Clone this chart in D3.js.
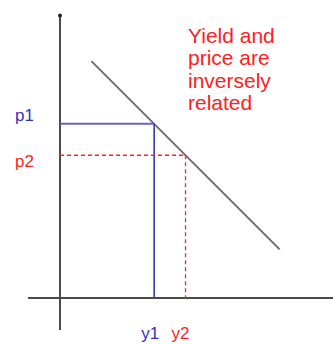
<!DOCTYPE html>
<html>
<head>
<meta charset="utf-8">
<script src="https://cdn.jsdelivr.net/npm/d3@7"></script>
<style>
  body { margin: 0; background: #fff; }
  text { font-family: "Liberation Sans", Arial, sans-serif; }
</style>
</head>
<body>
<div id="container"></div>
<script>
// yield (x) and price (y) in abstract units
const yieldLabels = ["y1", "y2"]
const priceLabels = ["p1", "p2"]
const yields = [3, 4]
const prices = [5.55, 4.55]
const curveYield = [1, 7]
const curvePrice = [7.55, 1.55]
const note = ["Yield and", "price are", "inversely", "related"]

const width = 333
const height = 344

const xScale = d3.scaleLinear().domain([0, 8.7]).range([60, 333])
const yScale = d3.scaleLinear().domain([0, 9]).range([298, 15.6])

const svg = d3.select("#container").append("svg")
  .attr("width", width)
  .attr("height", height)

// axes
svg.append("line")
  .attr("x1", xScale(-1.02)).attr("x2", xScale(8.7))
  .attr("y1", yScale(0)).attr("y2", yScale(0))
  .attr("stroke", "#4a4a4a").attr("stroke-width", 2)
svg.append("line")
  .attr("x1", xScale(0)).attr("x2", xScale(0))
  .attr("y1", yScale(-1.02)).attr("y2", yScale(9))
  .attr("stroke", "#4a4a4a").attr("stroke-width", 2)
svg.append("circle")
  .attr("cx", xScale(0)).attr("cy", yScale(9)).attr("r", 2)
  .attr("fill", "#222")

// price/yield curve
svg.append("line")
  .attr("x1", xScale(curveYield[0])).attr("y1", yScale(curvePrice[0]))
  .attr("x2", xScale(curveYield[1])).attr("y2", yScale(curvePrice[1]))
  .attr("stroke", "#6e6e6e").attr("stroke-width", 2)

const colors = ["#3535b5", "#ff2222"]

// guide lines
yields.forEach((yv, i) => {
  const dash = i === 1 ? "4,3" : null
  svg.append("line")
    .attr("x1", xScale(0)).attr("x2", xScale(yv))
    .attr("y1", yScale(prices[i])).attr("y2", yScale(prices[i]))
    .attr("stroke", i === 0 ? "#6464c4" : colors[1])
    .attr("stroke-width", i === 0 ? 2 : 1.3)
    .attr("stroke-dasharray", dash)
  svg.append("line")
    .attr("x1", xScale(yv)).attr("x2", xScale(yv))
    .attr("y1", yScale(prices[i])).attr("y2", yScale(0))
    .attr("stroke", colors[i])
    .attr("stroke-width", i === 0 ? 1.6 : 1.3)
    .attr("stroke-dasharray", dash)
})

// labels
const pDy = [-3, 12]
priceLabels.forEach((t, i) => {
  svg.append("text")
    .attr("x", 15).attr("y", yScale(prices[i]) + pDy[i])
    .attr("font-size", 17).attr("fill", colors[i])
    .text(t)
})
const yDx = [-4, -5]
yieldLabels.forEach((t, i) => {
  svg.append("text")
    .attr("x", xScale(yields[i]) + yDx[i]).attr("y", 339)
    .attr("text-anchor", "middle")
    .attr("font-size", 17).attr("fill", colors[i])
    .text(t)
})

svg.append("g").selectAll("text")
  .data(note)
  .enter()
  .append("text")
  .attr("x", 188)
  .attr("y", (_, i) => 43 + i * 22.3)
  .attr("font-size", 21)
  .attr("fill", "#ff2020")
  .text(d => d)
</script>
</body>
</html>
